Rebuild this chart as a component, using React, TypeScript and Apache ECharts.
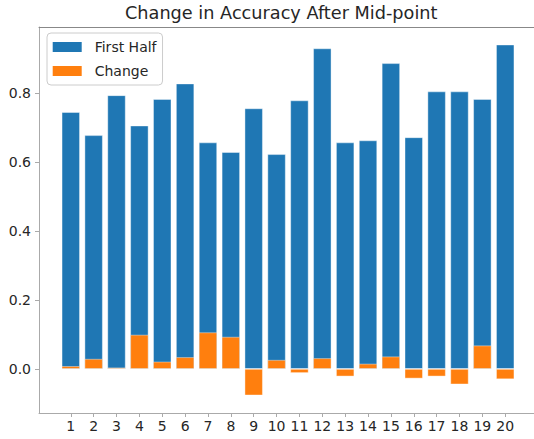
import React, { useEffect, useRef } from 'react';
import * as echarts from 'echarts';

const categories = [1, 2, 3, 4, 5, 6, 7, 8, 9, 10, 11, 12, 13, 14, 15, 16, 17, 18, 19, 20];
const firstHalf = [0.745, 0.678, 0.794, 0.706, 0.783, 0.828, 0.657, 0.629, 0.756, 0.623, 0.779, 0.930, 0.657, 0.663, 0.887, 0.672, 0.805, 0.805, 0.783, 0.941];
const change = [0.008, 0.029, 0.004, 0.099, 0.021, 0.034, 0.106, 0.093, -0.077, 0.026, -0.012, 0.031, -0.022, 0.015, 0.036, -0.028, -0.022, -0.045, 0.068, -0.030];
const yTicks = [0, 0.2, 0.4, 0.6, 0.8];

export default function App() {
  const ref = useRef<HTMLDivElement>(null);
  useEffect(() => {
    const chart = echarts.init(ref.current!, null, { renderer: 'svg' });
    const font = 'DejaVu Sans';
    const textColor = '#262626';
    const spine = '#aaaaaa';
    chart.setOption({
      animation: false,
      textStyle: { fontFamily: font },
      title: {
        text: 'Change in Accuracy After Mid-point',
        left: 125,
        top: 4,
        padding: 0,
        textStyle: { fontSize: 17.7, fontWeight: 'normal', color: textColor, fontFamily: font },
      },
      legend: {
        orient: 'vertical',
        left: 47,
        top: 33,
        padding: [5.5, 6, 5.5, 5.7],
        itemWidth: 29,
        itemHeight: 10,
        itemGap: 7,
        icon: 'rect',
        borderColor: '#cccccc',
        borderWidth: 1,
        borderRadius: 4,
        backgroundColor: 'rgba(255,255,255,0.8)',
        itemStyle: { borderWidth: 0 },
        textStyle: { fontSize: 14, color: textColor, fontFamily: font, lineHeight: 17, padding: [0, 0, 0, 8] },
        data: ['First Half', 'Change'],
      },
      grid: { left: 39, right: 3, top: 27, bottom: 26 },
      xAxis: [
        {
          type: 'value',
          min: -0.39,
          max: 21.39,
          axisLine: { show: true, onZero: false, lineStyle: { color: spine, width: 1 } },
          axisTick: { show: true, length: 4, customValues: categories, lineStyle: { color: spine } },
          axisLabel: {
            customValues: categories,
            formatter: (v: number) => String(Math.round(v)),
            fontSize: 14,
            color: textColor,
            fontFamily: font,
            margin: 6,
          },
          splitLine: { show: false },
        },
        {
          type: 'value',
          position: 'top',
          min: -0.39,
          max: 21.39,
          axisLine: { show: true, onZero: false, lineStyle: { color: '#888888', width: 1 } },
          axisTick: { show: false },
          axisLabel: { show: false },
          splitLine: { show: false },
        },
      ],
      yAxis: {
        type: 'value',
        min: -0.128,
        max: 0.992,
        axisLine: { show: true, onZero: false, lineStyle: { color: spine, width: 1 } },
        axisTick: { show: true, length: 4, customValues: yTicks, lineStyle: { color: spine } },
        axisLabel: {
          customValues: yTicks,
          formatter: (v: number) => v.toFixed(1),
          fontSize: 14,
          color: textColor,
          fontFamily: font,
          margin: 8,
        },
        splitLine: { show: false },
      },
      series: [
        {
          type: 'bar',
          name: 'First Half',
          xAxisIndex: 0,
          data: categories.map((c, i) => [c, firstHalf[i]]),
          barWidth: 18.3,
          barGap: '-100%',
          itemStyle: { color: '#1f77b4', borderColor: 'rgba(255,255,255,0.5)', borderWidth: 0.8 },
        },
        {
          type: 'bar',
          name: 'Change',
          xAxisIndex: 0,
          data: categories.map((c, i) => [c, change[i]]),
          barWidth: 18.3,
          barGap: '-100%',
          itemStyle: { color: '#ff7f0e', borderColor: 'rgba(255,255,255,0.5)', borderWidth: 0.8 },
        },
      ],
    });
    return () => chart.dispose();
  }, []);
  return (
    <div
      ref={ref}
      style={{ position: 'fixed', left: 0, top: 0, width: 540, height: 439, background: '#ffffff' }}
    />
  );
}
